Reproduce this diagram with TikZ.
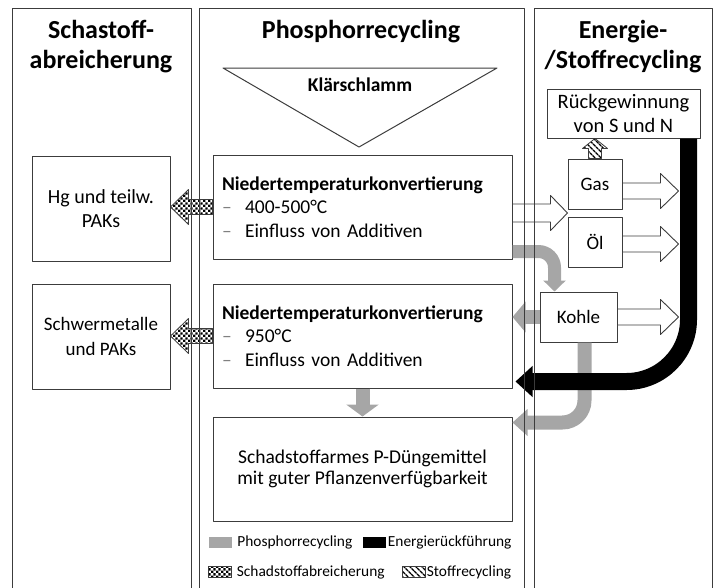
\documentclass[tikz,border=0pt]{standalone}
\usepackage{fontspec}
\setmainfont{Carlito}
\usetikzlibrary{arrows.meta,calc,patterns.meta,positioning}
\definecolor{pgray}{RGB}{166,166,166}
\definecolor{frame}{RGB}{60,60,60}
\tikzdeclarepattern{name=finecheck,type=uncolored,
	bounding box={(0pt,0pt) and (4.8pt,4.8pt)},tile size={(4.8pt,4.8pt)},
	code={\fill (0pt,0pt) rectangle (2.4pt,2.4pt); \fill (2.4pt,2.4pt) rectangle (4.8pt,4.8pt);}}
\newcommand\dsh{\makebox[23pt][l]{\textcolor{gray}{--}}}
\newcommand\blockarrow[6][]{%
	\path (#2) coordinate (ba-tail) (#3) coordinate (ba-tip)
	($(ba-tip)!#6!(ba-tail)$) coordinate (ba-base);
	\draw[#1] ($(ba-tail)!#4!90:(ba-tip)$) -- ($(ba-base)!#4!90:(ba-tip)$)
	-- ($(ba-base)!#5!90:(ba-tip)$) -- (ba-tip)
	-- ($(ba-base)!#5!-90:(ba-tip)$) -- ($(ba-base)!#4!-90:(ba-tip)$)
	-- ($(ba-tail)!#4!-90:(ba-tip)$) -- cycle;}
\begin{document}
\begin{tikzpicture}[x=1pt,y=-1pt,line join=round,
	box/.style={draw=frame,line width=1pt,inner sep=0pt,align=center,font=\fontsize{20}{23.5}\selectfont},
	ntbox/.style={box,minimum width=299pt,minimum height=104pt,text width=281pt,align=left,font=\fontsize{19.5}{23.5}\selectfont},
	head/.style={font=\fontsize{26}{30}\selectfont\bfseries,align=center,anchor=base,inner sep=0pt},
	col/.style={draw=frame,line width=0.8pt},
	hollow/.style={draw=frame,fill=white,line width=0.9pt},
	chk/.style={draw=frame,pattern=finecheck,line width=0.8pt},
	stripe/.style={draw=frame,pattern={Lines[angle=-45,distance=4pt,line width=1.5pt]},line width=0.8pt},
	prec/.style={pgray,line width=14pt,-{Triangle[width=30pt,length=13pt]}},
	erec/.style={black,line width=17pt,rounded corners=62pt,-{Triangle[width=30pt,length=17pt]}},
	lgbox/.style={minimum width=23pt,minimum height=11pt,inner sep=0pt},
	lgtext/.style={font=\fontsize{15.4}{18}\selectfont,inner sep=1pt}]
	\useasboundingbox (0,0) rectangle (717,587);
	\node[head] (h1) at (101,68) {Schastoff-\\abreicherung};
	\node[head] (h2) at (361,38) {Phosphorrecycling};
	\node[head] (h3) at (623,68) {Energie-\\/Stoffrecycling};
	\path (223,68) coordinate (KA) (497,68) coordinate (KB) (359,147) coordinate (KC);
	\draw[frame,line width=1pt] (KA)--(KB)--(KC)--cycle;
	\node[font=\fontsize{19.5}{23.5}\selectfont\bfseries] (ks) at (360,85) {Klärschlamm};
	\node[box,minimum width=138pt,minimum height=105pt] (hg) at (101,208.5) {Hg und teilw.\\PAKs};
	\node[box,minimum width=138pt,minimum height=105pt,font=\fontsize{19}{24.5}\selectfont] (sm) at (101,336.5) {Schwermetalle\\und PAKs};
	\node[ntbox] (nt1) at (362.5,207) {\textbf{Niedertemperaturkonvertierung}\\\dsh 400-500°C\\\dsh Einfluss von Additiven};
	\node[ntbox] (nt2) at (362.5,336) {\textbf{Niedertemperaturkonvertierung}\\\dsh 950°C\\\dsh Einfluss von Additiven};
	\node[box,minimum width=299pt,minimum height=104pt,font=\fontsize{19.5}{21.5}\selectfont] (pd) at (362.5,469) {Schadstoffarmes P-Düngemittel\\mit guter Pflanzenverfügbarkeit};
	\node[box,minimum width=153pt,minimum height=49pt,font=\fontsize{20.5}{23.5}\selectfont] (rsn) at (623.5,113.5) {Rückgewinnung\\von S und N};
	\node[box,minimum width=54pt,minimum height=50pt,font=\fontsize{19}{23}\selectfont] (gas) at (595,184) {Gas};
	\node[box,minimum width=54pt,minimum height=50pt,font=\fontsize{19}{23}\selectfont] (oel) at (595,242) {Öl};
	\node[box,minimum width=77pt,minimum height=50pt,font=\fontsize{19}{23}\selectfont] (kohle) at (578.5,317) {Kohle};
	\path ($(gas.south west)!.5!(oel.north west)$) coordinate (ntgap)
	($(gas.east)+(0,7)$) coordinate (gasout) ($(gas.east)+(56,7)$) coordinate (gastip)
	($(oel.east)+(0,2)$) coordinate (oelout) ($(oel.east)+(56,2)$) coordinate (oeltip)
	($(kohle.east)+(61,0)$) coordinate (kohletip);
	\blockarrow[hollow]{nt1.east |- ntgap}{ntgap}{9pt}{17.5pt}{17pt}
	\blockarrow[hollow]{gasout}{gastip}{8pt}{17.5pt}{18pt}
	\blockarrow[hollow]{oelout}{oeltip}{8pt}{17.5pt}{18pt}
	\blockarrow[hollow]{kohle.east}{kohletip}{8pt}{17.5pt}{18pt}
	\blockarrow[chk]{nt1.west}{nt1.west -| hg.east}{7.5pt}{17.5pt}{18pt}
	\blockarrow[chk]{nt2.west}{nt2.west -| sm.east}{7.5pt}{17.5pt}{18pt}
	\blockarrow[stripe]{gas.north}{gas.north |- rsn.south}{6.5pt}{12.5pt}{10pt}
	\draw[prec,line width=13pt,rounded corners=16pt,-{Triangle[width=22pt,length=11pt]}] ($(nt1.south east)+(0,-8)$) -| ($(kohle.north west)+(15,0)$);
	\draw[prec] (kohle.west) -- (kohle.west -| nt2.east);
	\draw[prec,-{Triangle[width=32pt,length=12pt]}] (nt2.south) -- (pd.north);
	\draw[prec,rounded corners=22pt,-{Triangle[width=26pt,length=15pt]}] ($(kohle.south)+(6,0)$) |- ($(pd.north east)+(0,6)$);
	\draw[erec] ($(rsn.south east)+(-12,0)$) |- ($(nt2.south east)+(3,-7)$);
	\node[lgbox,fill=pgray] (lg1) at (220.5,542) {};
	\node[lgtext,right=4pt of lg1] (lt1) {Phosphorrecycling};
	\node[lgbox,fill=black] (lg2) at (374,542) {};
	\node[lgtext,right=1pt of lg2] (lt2) {Energierückführung};
	\node[lgbox,draw=frame,pattern=finecheck] (lg3) at (220,572) {};
	\node[lgtext,right=4pt of lg3] (lt3) {Schadstoffabreicherung};
	\node[lgbox,draw=frame,pattern={Lines[angle=-45,distance=4pt,line width=1.5pt]}] (lg4) at (414,572) {};
	\node[lgtext,right=0pt of lg4] (lt4) {Stoffrecycling};
	\foreach \l/\r in {12/191,199/524,534/712} \draw[col] (\l,8) rectangle (\r,600);
\end{tikzpicture}
\end{document}
